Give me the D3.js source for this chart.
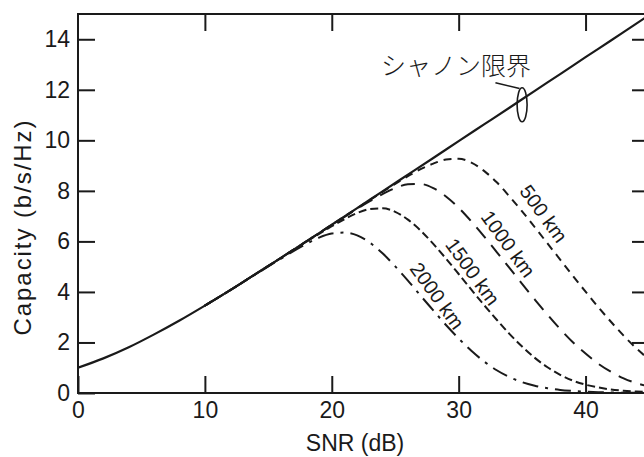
<!DOCTYPE html>
<html>
<head>
<meta charset="utf-8">
<script src="https://cdn.jsdelivr.net/npm/d3@7"></script>
<style>
  body { margin: 0; background: #fff; }
  svg { display: block; }
  text { font-family: "Liberation Sans", Arial, sans-serif; fill: #1a1a1a; }
</style>
</head>
<body>
<svg id="chart" width="644" height="457"></svg>
<script>
// Shannon limit, capacity vs SNR
const snrDb = [0, 2, 4, 6, 8, 10, 12, 14, 16, 18, 20, 22, 24, 26, 28, 30, 32, 34, 36, 38, 40, 42, 44, 46];
const shannonCap = [1.00, 1.37, 1.81, 2.32, 2.87, 3.46, 4.07, 4.71, 5.35, 6.00, 6.66, 7.32, 7.98, 8.64, 9.30, 9.97, 10.63, 11.29, 11.96, 12.62, 13.29, 13.95, 14.62, 15.28];

// Nonlinear-limited capacity for each transmission distance
const linkSnr = [10, 12, 14, 16, 18, 19, 20, 21, 22, 23, 24, 25, 26, 27, 28, 29, 30, 31, 32, 33, 34, 35, 36, 37, 38, 39, 40, 41, 42, 43, 44, 45];
const cap500 = [3.46, 4.07, 4.71, 5.35, 6.00, 6.33, 6.66, 6.99, 7.31, 7.64, 7.96, 8.28, 8.58, 8.86, 9.08, 9.24, 9.27, 9.12, 8.79, 8.34, 7.78, 7.19, 6.56, 5.92, 5.28, 4.64, 4.01, 3.40, 2.82, 2.27, 1.77, 1.33];
const cap1000 = [3.46, 4.07, 4.71, 5.35, 6.00, 6.33, 6.65, 6.97, 7.29, 7.59, 7.87, 8.11, 8.26, 8.27, 8.11, 7.78, 7.33, 6.79, 6.20, 5.58, 4.95, 4.32, 3.70, 3.10, 2.53, 2.01, 1.56, 1.16, 0.84, 0.58, 0.39, 0.26];
const cap1500 = [3.46, 4.07, 4.71, 5.35, 5.99, 6.30, 6.60, 6.88, 7.12, 7.28, 7.31, 7.17, 6.86, 6.43, 5.90, 5.32, 4.71, 4.09, 3.48, 2.90, 2.34, 1.84, 1.39, 1.02, 0.72, 0.49, 0.33, 0.22, 0.14, 0.09, 0.06, 0.04];
const cap2000 = [3.46, 4.07, 4.70, 5.32, 5.90, 6.15, 6.31, 6.35, 6.24, 5.95, 5.53, 5.01, 4.45, 3.85, 3.27, 2.69, 2.16, 1.67, 1.25, 0.90, 0.63, 0.43, 0.29, 0.19, 0.12, 0.08, 0.05, 0.03, 0.02, 0.01, 0.01, 0.00];

const distanceLabels = ["500 km", "1000 km", "1500 km", "2000 km"];
const distanceDash = ["8,6", "14,9", "8,4", "16,7,3,7"];
// label anchor in data units (SNR dB, capacity)
const labelSnr = [36.7, 33.9, 31.1, 28.3];
const labelCap = [7.1, 5.9, 4.8, 3.85];

const xTicks = [0, 10, 20, 30, 40];
const yTicks = [0, 2, 4, 6, 8, 10, 12, 14];

const svg = d3.select("#chart");
const plotL = 78, plotR = 649, plotT = 14, plotB = 393;
const x = d3.scaleLinear().domain([0, 45]).range([plotL, plotR]);
const y = d3.scaleLinear().domain([0, 15]).range([plotB, plotT]);

svg.append("defs").append("clipPath").attr("id", "plotClip")
  .append("rect").attr("x", plotL).attr("y", plotT)
  .attr("width", plotR - plotL).attr("height", plotB - plotT);

const tickLen = 17;
const axisStyle = g => {
  g.select(".domain").remove();
  g.selectAll(".tick line").attr("stroke", "#1a1a1a").attr("stroke-width", 2);
  g.selectAll(".tick text").attr("font-size", 23).attr("fill", "#1a1a1a")
    .style("font-family", '"Liberation Sans", Arial, sans-serif');
};

// bottom axis with labels, ticks pointing inward
svg.append("g").attr("transform", `translate(0,${plotB})`)
  .call(d3.axisBottom(x).tickValues(xTicks).tickSizeInner(-tickLen).tickSizeOuter(0).tickPadding(9))
  .call(axisStyle);
// top axis ticks
svg.append("g").attr("transform", `translate(0,${plotT})`)
  .call(d3.axisTop(x).tickValues(xTicks.slice(1)).tickSizeInner(-tickLen).tickSizeOuter(0).tickFormat(""))
  .call(axisStyle);
// left axis with labels
svg.append("g").attr("transform", `translate(${plotL},0)`)
  .call(d3.axisLeft(y).tickValues(yTicks).tickSizeInner(-tickLen).tickSizeOuter(0).tickPadding(8))
  .call(axisStyle);
// right axis ticks
svg.append("g").attr("transform", `translate(${plotR},0)`)
  .call(d3.axisRight(y).tickValues(yTicks.slice(1)).tickSizeInner(-tickLen).tickSizeOuter(0).tickFormat(""))
  .call(axisStyle);

// frame
svg.append("rect").attr("x", plotL).attr("y", plotT)
  .attr("width", plotR - plotL).attr("height", plotB - plotT)
  .attr("fill", "none").attr("stroke", "#1a1a1a").attr("stroke-width", 2);

const plot = svg.append("g").attr("clip-path", "url(#plotClip)");
const line = d3.line().x(d => x(d[0])).y(d => y(d[1])).curve(d3.curveMonotoneX);

// distance-limited curves
[cap500, cap1000, cap1500, cap2000].forEach((vals, i) => {
  plot.append("path")
    .datum(linkSnr.map((s, j) => [s, vals[j]]))
    .attr("d", line)
    .attr("fill", "none")
    .attr("stroke", "#1a1a1a")
    .attr("stroke-width", 2)
    .attr("stroke-dasharray", distanceDash[i]);
});

// Shannon limit
plot.append("path")
  .datum(snrDb.map((s, j) => [s, shannonCap[j]]))
  .attr("d", line)
  .attr("fill", "none")
  .attr("stroke", "#1a1a1a")
  .attr("stroke-width", 2.2);

// distance labels along the curves
distanceLabels.forEach((t, i) => {
  svg.append("text")
    .attr("transform", `translate(${x(labelSnr[i])},${y(labelCap[i])}) rotate(54)`)
    .attr("text-anchor", "middle")
    .attr("dominant-baseline", "central")
    .attr("font-size", 20)
    .text(t);
});

// Shannon limit callout
const calloutSnr = 35.0, calloutCap = 11.41;
svg.append("ellipse")
  .attr("cx", x(calloutSnr)).attr("cy", y(calloutCap))
  .attr("rx", 5).attr("ry", 17)
  .attr("fill", "none").attr("stroke", "#1a1a1a").attr("stroke-width", 1.6);
svg.append("line")
  .attr("x1", x(32.9)).attr("y1", y(12.28))
  .attr("x2", x(34.8)).attr("y2", y(12.05))
  .attr("stroke", "#1a1a1a").attr("stroke-width", 1.6);
svg.append("text")
  .attr("x", x(29.8)).attr("y", y(12.6))
  .attr("text-anchor", "middle")
  .attr("font-size", 25)
  .style("font-family", '"Noto Sans CJK JP", sans-serif')
  .style("font-weight", 300)
  .attr("fill", "#333")
  .text("シャノン限界");

// axis titles
svg.append("text")
  .attr("x", 355).attr("y", 451)
  .attr("text-anchor", "middle")
  .attr("font-size", 23)
  .text("SNR (dB)");
svg.append("text")
  .attr("transform", `translate(31,228) rotate(-90)`)
  .attr("text-anchor", "middle")
  .attr("font-size", 24)
  .attr("textLength", 215)
  .attr("lengthAdjust", "spacing")
  .text("Capacity (b/s/Hz)");
</script>
</body>
</html>
